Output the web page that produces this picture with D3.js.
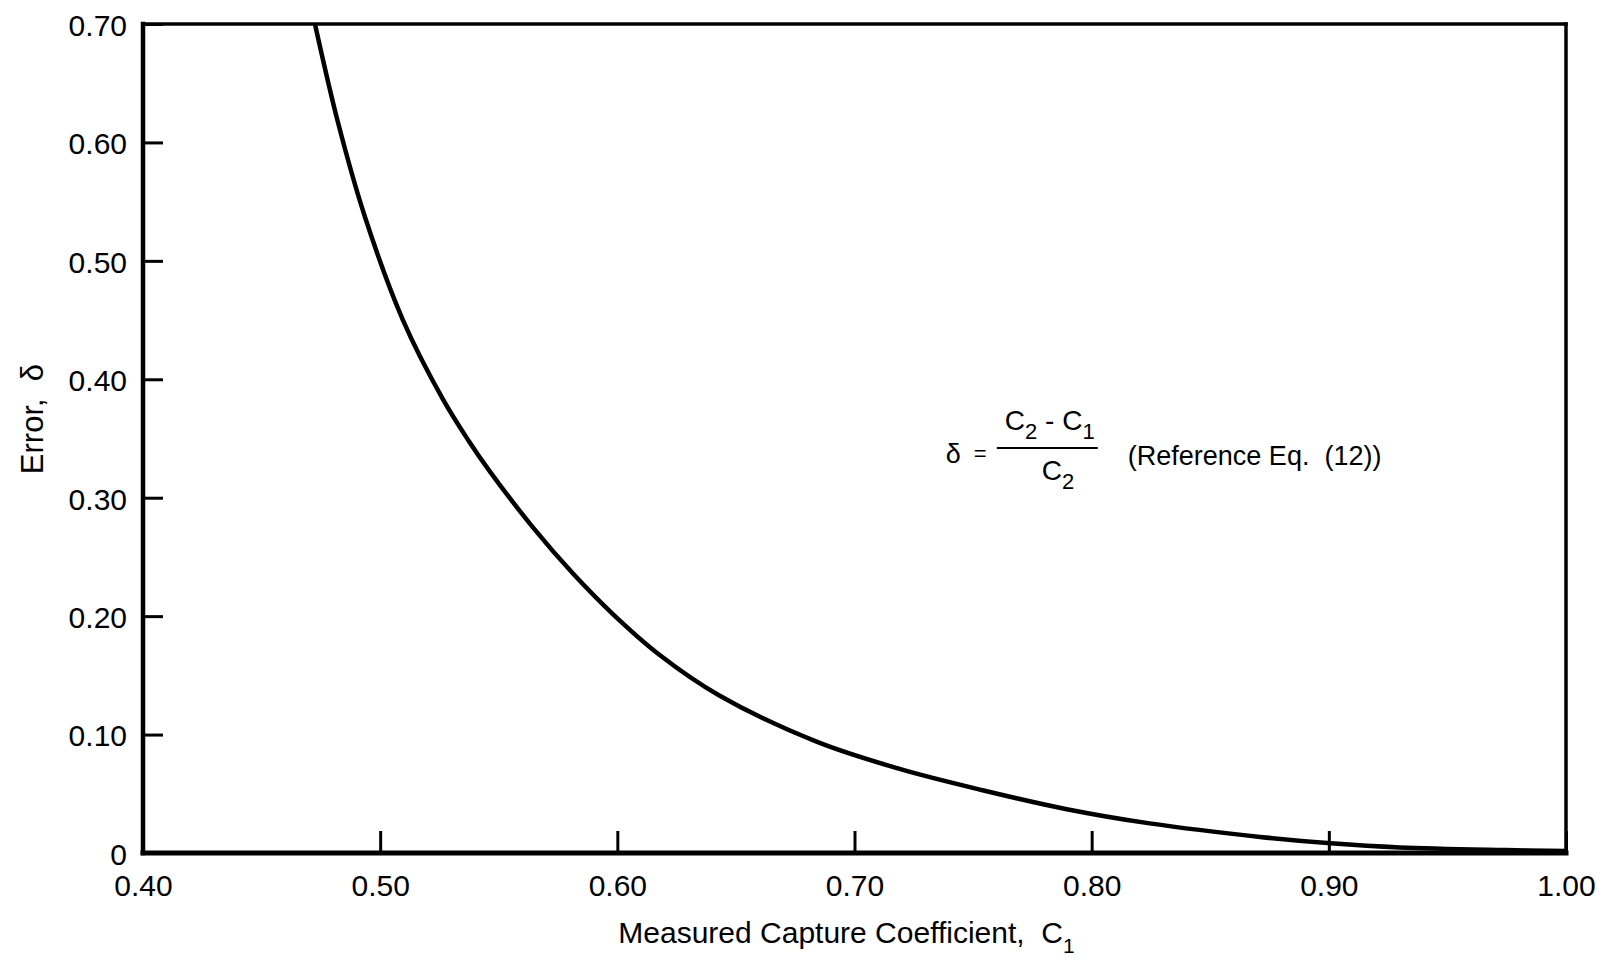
<!DOCTYPE html>
<html>
<head>
<meta charset="utf-8">
<script src="https://cdn.jsdelivr.net/npm/d3@7"></script>
<style>
  html, body { margin: 0; padding: 0; background: #fff; }
  svg { display: block; }
  text { font-family: "Liberation Sans", Arial, sans-serif; fill: #000; }
</style>
</head>
<body>
<svg id="chart" width="1599" height="959"></svg>
<script>
// ---- data ----
const c1Values    = [0.4725, 0.4822, 0.4936, 0.5096, 0.5265, 0.537, 0.5463, 0.5644, 0.5813, 0.598, 0.618, 0.643, 0.684, 0.719, 0.754, 0.7895, 0.8245, 0.871, 0.9008, 0.930, 0.9746, 1.0];
const deltaValues = [0.700,  0.617,  0.537,  0.450,  0.383,  0.349, 0.322,  0.275,  0.236,  0.202, 0.167, 0.133, 0.094, 0.071, 0.053, 0.037,  0.025,  0.0136, 0.0082, 0.0047, 0.0025, 0.0017];
const xTicks = [0.40, 0.50, 0.60, 0.70, 0.80, 0.90, 1.00];
const yTicks = [0, 0.10, 0.20, 0.30, 0.40, 0.50, 0.60, 0.70];
const xTitle = "Measured Capture Coefficient,  C";
const xTitleSub = "1";
const yTitle = "Error,  δ";
const annotationAnchor = [0.7385, 0.337]; // [C1, delta] where the formula starts

// ---- layout ----
const svg = d3.select("#chart");
const L = 143, R = 1566, T = 24, B = 853;
const x = d3.scaleLinear().domain([0.4, 1.0]).range([L, R]);
const y = d3.scaleLinear().domain([0, 0.7]).range([B, T]);

// axes (inward ticks)
const xAxis = d3.axisBottom(x).tickValues(xTicks).tickSizeInner(-22).tickSizeOuter(0).tickPadding(22)
  .tickFormat(d3.format(".2f"));
const yAxis = d3.axisLeft(y).tickValues(yTicks).tickSizeInner(-20).tickSizeOuter(0).tickPadding(16)
  .tickFormat(d => d === 0 ? "0" : d3.format(".2f")(d));

const gx = svg.append("g").attr("transform", `translate(0,${B})`).call(xAxis);
gx.select(".domain").remove();
gx.selectAll(".tick line").attr("stroke", "#000").attr("stroke-width", 3);
gx.selectAll(".tick text").attr("font-size", 30).attr("fill", "#000")
  .style("font-family", '"Liberation Sans", Arial, sans-serif');

const gy = svg.append("g").attr("transform", `translate(${L},0)`).call(yAxis);
gy.select(".domain").remove();
gy.selectAll(".tick line").attr("stroke", "#000").attr("stroke-width", 3);
gy.selectAll(".tick text").attr("font-size", 30).attr("fill", "#000").attr("dy", "0.38em")
  .style("font-family", '"Liberation Sans", Arial, sans-serif');

// frame
const frame = svg.append("g").attr("stroke", "#000").attr("fill", "none").attr("stroke-linecap", "square");
frame.append("line").attr("x1", x(0.4)).attr("x2", x(1.0)).attr("y1", y(0.7)).attr("y2", y(0.7)).attr("stroke-width", 3.5);
frame.append("line").attr("x1", x(1.0)).attr("x2", x(1.0)).attr("y1", y(0.7)).attr("y2", y(0)).attr("stroke-width", 3.5);
frame.append("line").attr("x1", x(0.4)).attr("x2", x(0.4)).attr("y1", y(0.7)).attr("y2", y(0)).attr("stroke-width", 4.5);
frame.append("line").attr("x1", x(0.4)).attr("x2", x(1.0)).attr("y1", y(0)).attr("y2", y(0)).attr("stroke-width", 5);

// curve
const pts = c1Values.map((c, i) => [c, deltaValues[i]]);
const line = d3.line().x(d => x(d[0])).y(d => y(d[1])).curve(d3.curveCatmullRom.alpha(0.5));
svg.append("path").datum(pts).attr("d", line)
  .attr("fill", "none").attr("stroke", "#000").attr("stroke-width", 4.5).attr("stroke-linejoin", "round");

// axis titles
const xt = svg.append("text").attr("x", (L + R) / 2 - 8).attr("y", 943)
  .attr("text-anchor", "middle").attr("font-size", 30).attr("xml:space", "preserve");
xt.append("tspan").text(xTitle);
xt.append("tspan").attr("font-size", 21).attr("dy", 10).text(xTitleSub);

svg.append("text").attr("transform", `translate(43,419) rotate(-90)`)
  .attr("text-anchor", "middle").attr("font-size", 31).attr("xml:space", "preserve")
  .text(yTitle);

// annotation: delta = (C2 - C1)/C2 (Reference Eq. (12))
const ax = x(annotationAnchor[0]), ay = y(annotationAnchor[1]);
const ann = svg.append("g").attr("transform", `translate(${ax},${ay})`);
ann.append("text").attr("x", 0).attr("y", 9).attr("font-size", 27).text("δ");
ann.append("text").attr("x", 28).attr("y", 7).attr("font-size", 22).text("=");
ann.append("line").attr("x1", 51).attr("x2", 152).attr("y1", -6).attr("y2", -6)
  .attr("stroke", "#000").attr("stroke-width", 2);
const num = ann.append("text").attr("x", 59).attr("y", -24).attr("font-size", 28).attr("xml:space", "preserve");
num.append("tspan").text("C");
num.append("tspan").attr("font-size", 22).attr("dy", 9).text("2");
num.append("tspan").attr("dy", -9).text(" - C");
num.append("tspan").attr("font-size", 22).attr("dy", 9).text("1");
const den = ann.append("text").attr("x", 96).attr("y", 26).attr("font-size", 28);
den.append("tspan").text("C");
den.append("tspan").attr("font-size", 22).attr("dy", 9).text("2");
ann.append("text").attr("x", 182).attr("y", 11).attr("font-size", 27).attr("xml:space", "preserve")
  .text("(Reference Eq.  (12))");
</script>
</body>
</html>
